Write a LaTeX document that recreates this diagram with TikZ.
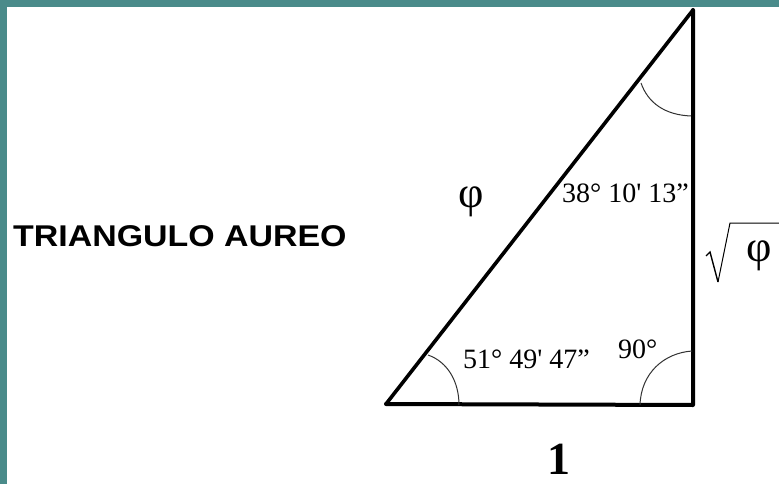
\documentclass[tikz,border=0pt]{standalone}
\usepackage{fontspec}
\setmainfont{Liberation Serif}
\newfontfamily\arialb{Liberation Sans Bold}
\newfontfamily\angfont{Liberation Serif}
\definecolor{teal1}{RGB}{74,139,138}
\begin{document}
\begin{tikzpicture}[x=1pt,y=-1pt,
  side/.style={line width=4pt,line cap=round,line join=round},
  anglearc/.style={line width=1pt,black!80},
  anglab/.style={inner sep=0pt,anchor=base west,font=\angfont\fontsize{28}{30}\selectfont}]
\useasboundingbox (0,0) rectangle (779,484);
\fill[white] (0,0) rectangle (779,484);
\fill[teal1] (0,0) rectangle (779,7);
\fill[teal1] (0,0) rectangle (7,484);
% vertices
\coordinate (A) at (386,404);
\coordinate (B) at (693,405);
\coordinate (C) at (693,10);
\draw[side] (A) -- (B) -- (C);
\draw[line width=3.6pt,line cap=round] (A) -- (C);
% angle arcs
\coordinate (a1) at (428,355);
\coordinate (a2) at (459,405);
\draw[anglearc] (a1) .. controls (448,362) and (459,382) .. (a2);
\coordinate (b1) at (640,405);
\coordinate (b2) at (692,351);
\draw[anglearc] (b1) .. controls (641,373) and (664,353) .. (b2);
\coordinate (c1) at (641,83);
\coordinate (c2) at (691,116);
\draw[anglearc] (c1) .. controls (648,103) and (665,115) .. (c2);
% labels
\node[inner sep=0pt,anchor=base west] (title) at (13,246)
  {\scalebox{1.13}[1]{\arialb\fontsize{30}{32}\selectfont TRIANGULO AUREO}};
\node[anglab] (top) at (562,202) {38° 10' 13”};
\node[anglab] (left) at (463,368) {51° 49' 47”};
\node[anglab] (right) at (618,358) {90°};
\node[inner sep=0pt,anchor=base,font=\fontsize{44}{46}\selectfont] (hyp) at (471,207) {φ};
\node[inner sep=0pt,anchor=base,font=\fontsize{44}{46}\selectfont] (sq) at (759,261) {φ};
\coordinate (r1) at (706,256);
\coordinate (r2) at (710,252);
\coordinate (r3) at (718,282);
\coordinate (r4) at (730,223);
\coordinate (r5) at (779,223);
\draw[line width=1.4pt,line join=miter] (r1) -- (r2) -- (r3);
\draw[line width=1pt] (r3) -- (r4) -- (r5);
\node[inner sep=0pt,anchor=base,font=\bfseries\fontsize{46}{48}\selectfont] (one) at (559,474) {1};
\end{tikzpicture}
\end{document}
